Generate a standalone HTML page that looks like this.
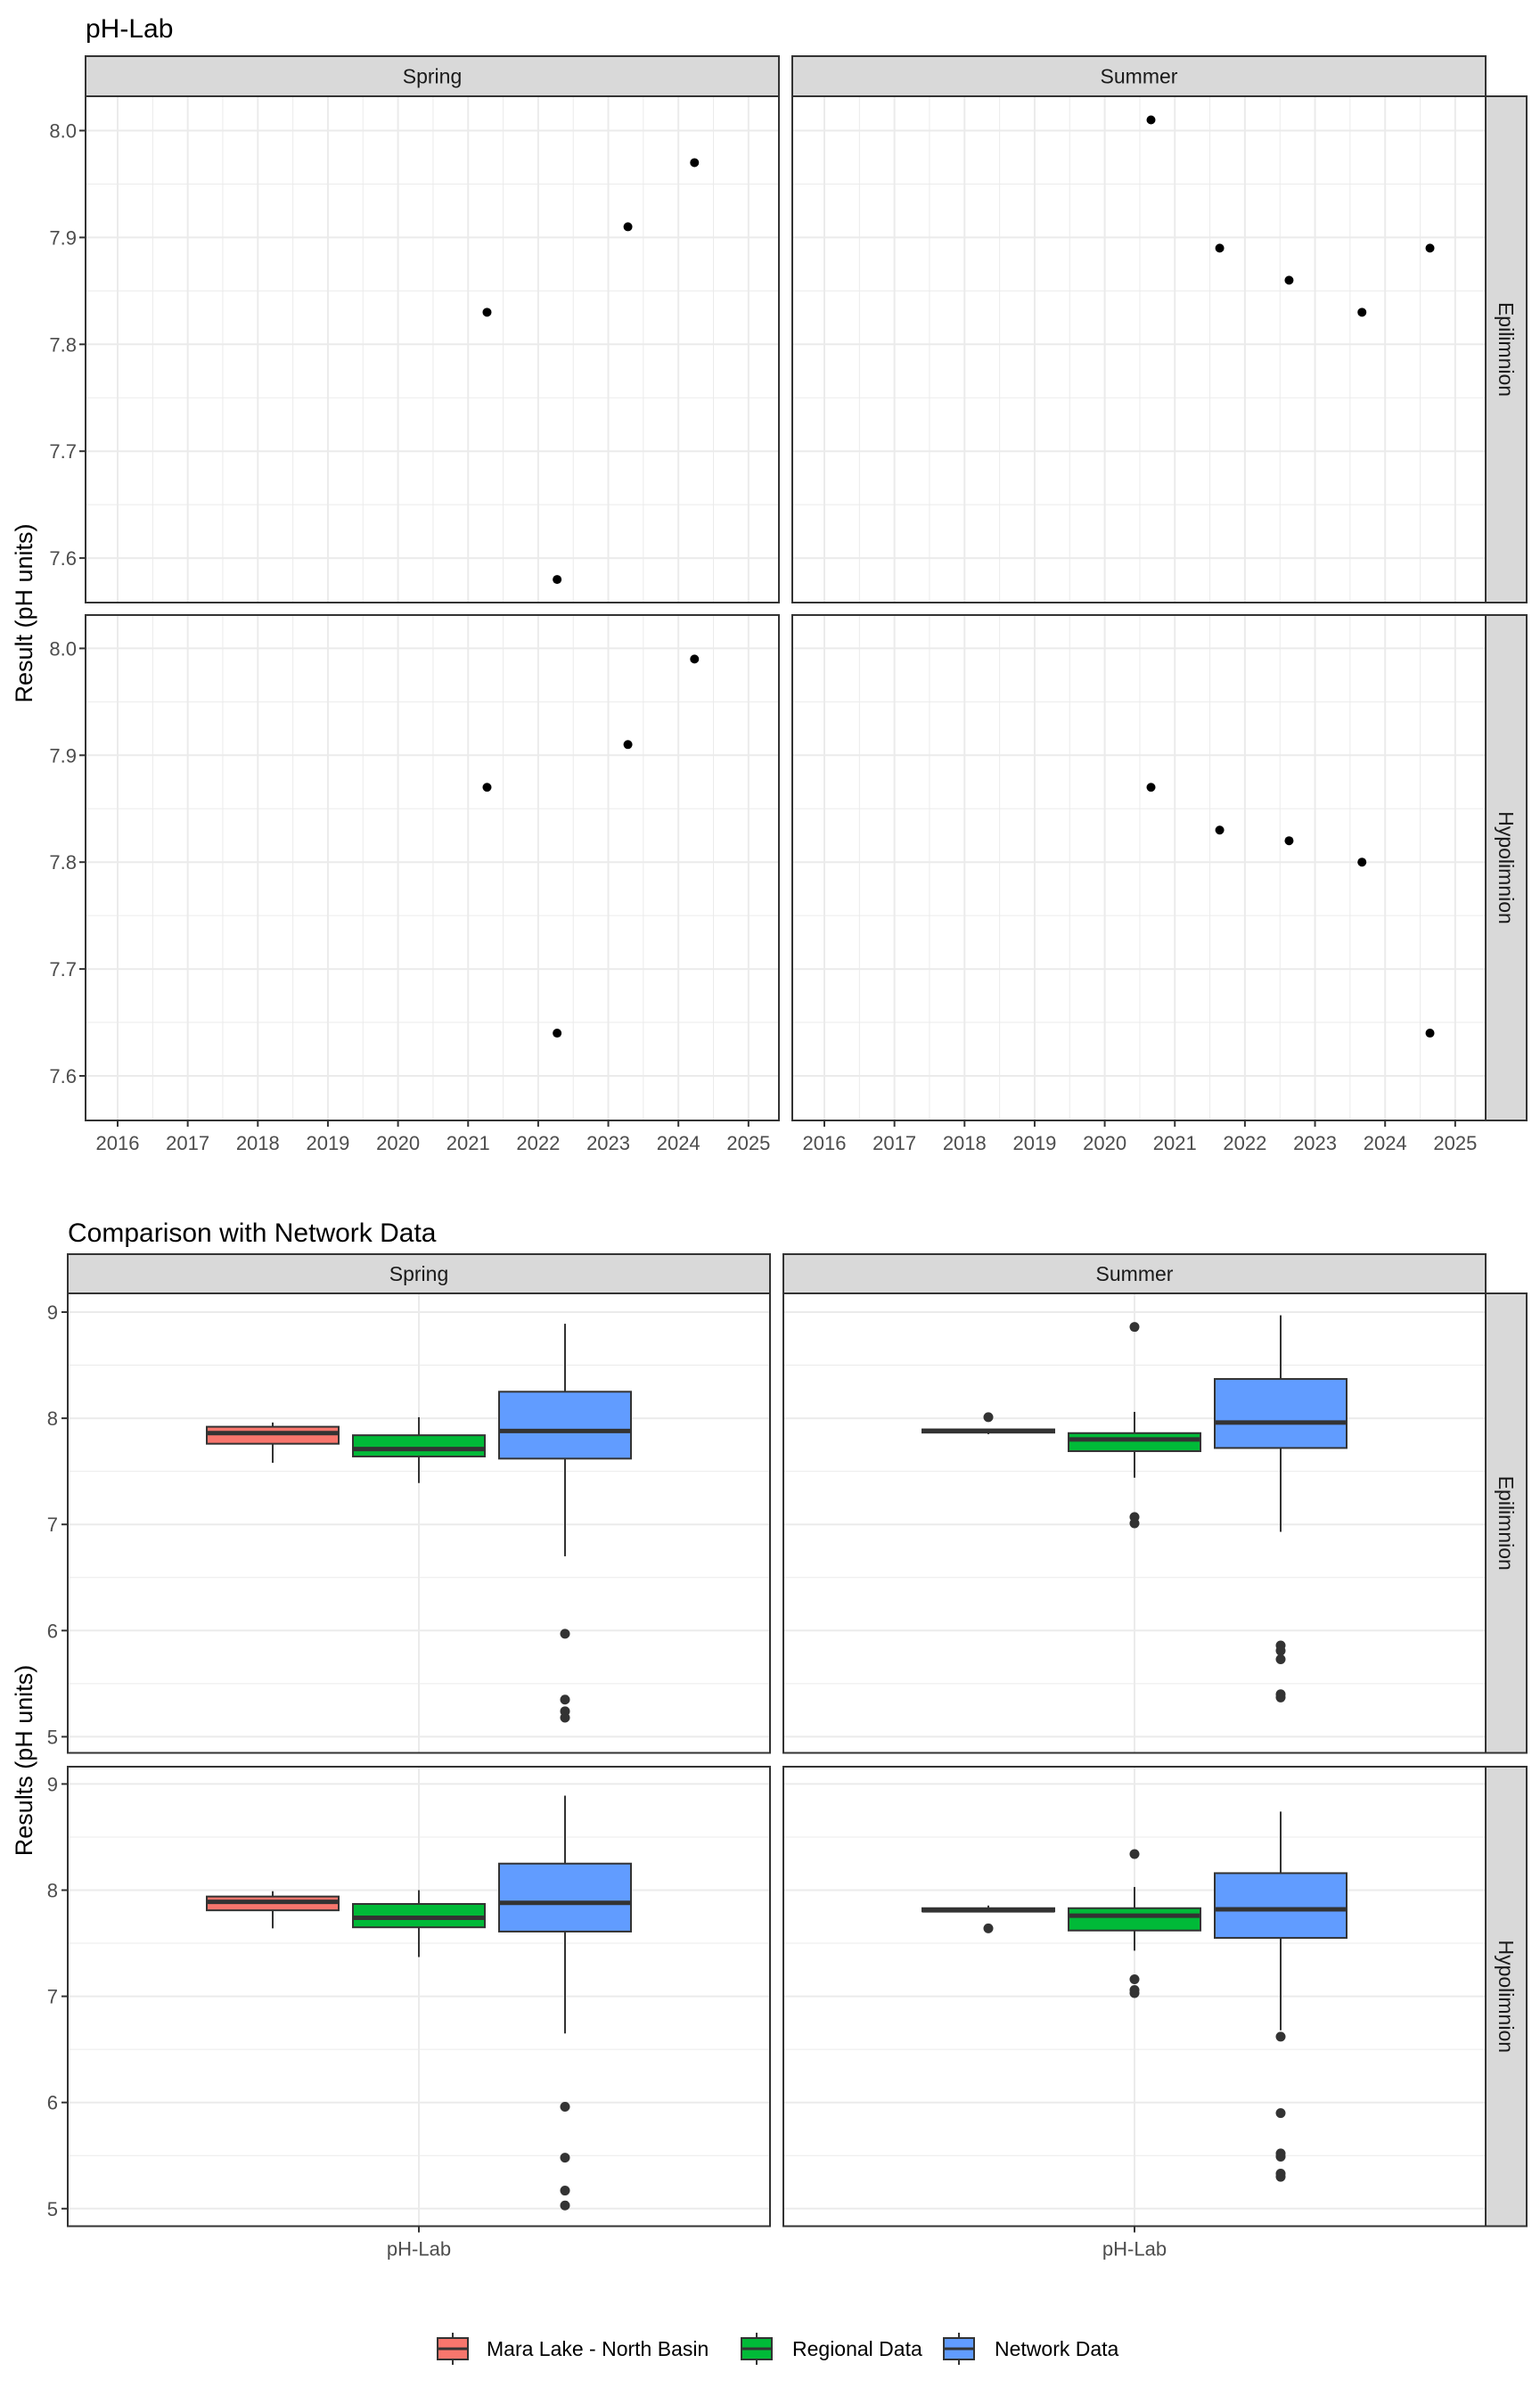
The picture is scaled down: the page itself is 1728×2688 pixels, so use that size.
<!DOCTYPE html>
<html><head><meta charset="utf-8"><style>
html,body{margin:0;padding:0;background:#fff;}
svg{display:block;font-family:"Liberation Sans",Arial,sans-serif;}
</style></head><body>
<svg id="c" width="1728" height="2688" viewBox="0 0 1728 2688" xmlns="http://www.w3.org/2000/svg">
<rect width="1728" height="2688" fill="#fff"/>
<text x="96" y="42" font-size="30" fill="#000">pH-Lab</text>
<text transform="translate(36,688) rotate(-90)" text-anchor="middle" font-size="27" fill="#000">Result (pH units)</text>
<text x="76" y="1393" font-size="30" fill="#000">Comparison with Network Data</text>
<text transform="translate(36,1975) rotate(-90)" text-anchor="middle" font-size="27" fill="#000">Results (pH units)</text>
<g id="g"></g>
</svg>
<script>
// ---- Top chart data (year, pH) ----
const yearTicks = [2016,2017,2018,2019,2020,2021,2022,2023,2024,2025];
const phTicks = [7.6,7.7,7.8,7.9,8.0];
const phTickLabels = ["7.6","7.7","7.8","7.9","8.0"];
const springEpiYears = [2021.27,2022.27,2023.28,2024.23];
const springEpiValues = [7.83,7.58,7.91,7.97];
const summerEpiYears = [2020.66,2021.64,2022.63,2023.67,2024.64];
const summerEpiValues = [8.01,7.89,7.86,7.83,7.89];
const springHypoYears = [2021.27,2022.27,2023.28,2024.23];
const springHypoValues = [7.87,7.64,7.91,7.99];
const summerHypoYears = [2020.66,2021.64,2022.63,2023.67,2024.64];
const summerHypoValues = [7.87,7.83,7.82,7.80,7.64];

// ---- Bottom chart data: [whiskerLow, q1, median, q3, whiskerHigh] ----
const groups = ["Mara Lake - North Basin","Regional Data","Network Data"];
const resultTicks = [5,6,7,8,9];
const springEpiBoxes = [[7.58,7.76,7.86,7.92,7.96],[7.39,7.64,7.71,7.84,8.01],[6.70,7.62,7.88,8.25,8.89]];
const springEpiOutliers = [[],[],[5.97,5.35,5.24,5.18]];
const summerEpiBoxes = [[7.85,7.865,7.88,7.895,7.90],[7.44,7.69,7.80,7.86,8.06],[6.93,7.72,7.96,8.37,8.97]];
const summerEpiOutliers = [[8.01],[8.86,7.07,7.01],[5.86,5.81,5.73,5.40,5.37]];
const springHypoBoxes = [[7.64,7.81,7.89,7.94,7.99],[7.37,7.65,7.74,7.87,8.00],[6.65,7.61,7.88,8.25,8.89]];
const springHypoOutliers = [[],[],[5.96,5.48,5.17,5.03]];
const summerHypoBoxes = [[7.79,7.80,7.81,7.83,7.855],[7.43,7.62,7.76,7.83,8.03],[6.68,7.55,7.82,8.16,8.74]];
const summerHypoOutliers = [[7.64],[8.34,7.16,7.06,7.03],[6.62,5.90,5.52,5.49,5.33,5.30]];

const fills = ["#F8766D","#00BA38","#619CFF"];
const NS="http://www.w3.org/2000/svg";
const G=document.getElementById('g');
function mk(tag,attrs,parent){const e=document.createElementNS(NS,tag);for(const k in attrs)e.setAttribute(k,attrs[k]);(parent||G).appendChild(e);return e;}

function strip(x,y,w,h,label,rot,name){
  const r=mk('rect',{x:x,y:y,width:w,height:h,fill:'#D9D9D9',stroke:'#333','stroke-width':2});
  
  
  let t;
  if(rot){t=mk('text',{transform:`translate(${x+w/2-8},${y+h/2}) rotate(90)`,'text-anchor':'middle','font-size':23,fill:'#1a1a1a'});}
  else{t=mk('text',{x:x+w/2,y:y+h/2+8,'text-anchor':'middle','font-size':23,fill:'#1a1a1a'});}
  t.textContent=label;
  
  
}

// ---------- Top chart ----------
function topPanel(px,py,pw,ph,y8,years,vals,showY,showX,name){
  const xs=v=>px+36+(v-2016)*78.65;
  const ys=v=>y8+(8.0-v)*1199;
  const bg=mk('rect',{x:px,y:py,width:pw,height:ph,fill:'#fff'});
  
  
  for(let yr=2015.5;yr<=2025.6;yr+=1){const x=xs(yr);if(x>px&&x<px+pw)mk('line',{x1:x,x2:x,y1:py,y2:py+ph,stroke:'#EBEBEB','stroke-width':1});}
  for(let v=7.55;v<=8.06;v+=0.1){const y=ys(v);if(y>py&&y<py+ph)mk('line',{x1:px,x2:px+pw,y1:y,y2:y,stroke:'#EBEBEB','stroke-width':1});}
  yearTicks.forEach(yr=>{mk('line',{x1:xs(yr),x2:xs(yr),y1:py,y2:py+ph,stroke:'#EBEBEB','stroke-width':2});});
  phTicks.forEach((v,i)=>{const y=ys(v);mk('line',{x1:px,x2:px+pw,y1:y,y2:y,stroke:'#EBEBEB','stroke-width':2});
    if(showY){mk('line',{x1:px-7,x2:px,y1:y,y2:y,stroke:'#333','stroke-width':2});
      const t=mk('text',{x:px-10,y:y+8,'text-anchor':'end','font-size':22,fill:'#4d4d4d'});t.textContent=phTickLabels[i];
      
      }});
  if(showX){yearTicks.forEach(yr=>{const x=xs(yr);mk('line',{x1:x,x2:x,y1:py+ph,y2:py+ph+7,stroke:'#333','stroke-width':2});
    const t=mk('text',{x:x,y:py+ph+33,'text-anchor':'middle','font-size':22,fill:'#4d4d4d'});t.textContent=yr;
    
    });}
  years.forEach((yr,i)=>{const c=mk('circle',{cx:xs(yr),cy:ys(vals[i]),r:5,fill:'#000'});
    
    });
  mk('rect',{x:px,y:py,width:pw,height:ph,fill:'none',stroke:'#333','stroke-width':2});
}
strip(96,63,778,45,'Spring',false,'top-spring');
strip(889,63,778,45,'Summer',false,'top-summer');
topPanel(96,108,778,568,146.5,springEpiYears,springEpiValues,true,false,'top-spring-epilimnion');
topPanel(889,108,778,568,146.5,summerEpiYears,summerEpiValues,false,false,'top-summer-epilimnion');
topPanel(96,690,778,567,727.4,springHypoYears,springHypoValues,true,true,'top-spring-hypolimnion');
topPanel(889,690,778,567,727.4,summerHypoYears,summerHypoValues,false,true,'top-summer-hypolimnion');
strip(1667,108,46,568,'Epilimnion',true,'top-epilimnion');
strip(1667,690,46,567,'Hypolimnion',true,'top-hypolimnion');

// ---------- Bottom chart ----------
function boxPanel(px,py,pw,ph,y9,boxes,outs,showY,showX,name){
  const unit=119.1;
  const ys=v=>y9+(9-v)*unit;
  const cx=px+pw/2;
  const bg=mk('rect',{x:px,y:py,width:pw,height:ph,fill:'#fff'});
  
  
  [5.5,6.5,7.5,8.5].forEach(v=>mk('line',{x1:px,x2:px+pw,y1:ys(v),y2:ys(v),stroke:'#EBEBEB','stroke-width':1}));
  resultTicks.forEach(v=>{const y=ys(v);mk('line',{x1:px,x2:px+pw,y1:y,y2:y,stroke:'#EBEBEB','stroke-width':2});
    if(showY){mk('line',{x1:px-7,x2:px,y1:y,y2:y,stroke:'#333','stroke-width':2});
      const t=mk('text',{x:px-11,y:y+8,'text-anchor':'end','font-size':22,fill:'#4d4d4d'});t.textContent=v;
      
      }});
  mk('line',{x1:cx,x2:cx,y1:py,y2:py+ph,stroke:'#EBEBEB','stroke-width':2});
  if(showX){mk('line',{x1:cx,x2:cx,y1:py+ph,y2:py+ph+7,stroke:'#333','stroke-width':2});
    const t=mk('text',{x:cx,y:py+ph+33,'text-anchor':'middle','font-size':22,fill:'#4d4d4d'});t.textContent='pH-Lab';
    
    }
  boxes.forEach((b,i)=>{
    const bx=cx+(i-1)*164, w=148;
    const g=mk('g',{});
    
    
    mk('line',{x1:bx,x2:bx,y1:ys(b[4]),y2:ys(b[3]),stroke:'#333','stroke-width':2},g);
    mk('line',{x1:bx,x2:bx,y1:ys(b[1]),y2:ys(b[0]),stroke:'#333','stroke-width':2},g);
    mk('rect',{x:bx-w/2,y:ys(b[3]),width:w,height:Math.max(0.5,ys(b[1])-ys(b[3])),fill:fills[i],stroke:'#333','stroke-width':2},g);
    mk('line',{x1:bx-w/2,x2:bx+w/2,y1:ys(b[2]),y2:ys(b[2]),stroke:'#333','stroke-width':5},g);
    outs[i].forEach(v=>{const c=mk('circle',{cx:bx,cy:ys(v),r:5.5,fill:'#333'},g);
      
      });
  });
  mk('rect',{x:px,y:py,width:pw,height:ph,fill:'none',stroke:'#333','stroke-width':2});
}
strip(76,1407,788,44,'Spring',false,'bottom-spring');
strip(879,1407,788,44,'Summer',false,'bottom-summer');
boxPanel(76,1451,788,515.5,1472,springEpiBoxes,springEpiOutliers,true,false,'bottom-spring-epilimnion');
boxPanel(879,1451,788,515.5,1472,summerEpiBoxes,summerEpiOutliers,false,false,'bottom-summer-epilimnion');
boxPanel(76,1982,788,515.5,2001.4,springHypoBoxes,springHypoOutliers,true,true,'bottom-spring-hypolimnion');
boxPanel(879,1982,788,515.5,2001.4,summerHypoBoxes,summerHypoOutliers,false,true,'bottom-summer-hypolimnion');
strip(1667,1451,46,515.5,'Epilimnion',true,'bottom-epilimnion');
strip(1667,1982,46,515.5,'Hypolimnion',true,'bottom-hypolimnion');

// ---------- Legend ----------
const legendX=[491,832,1059];
const textX=[546,889,1116];
groups.forEach((gname,i)=>{
  const g=mk('g',{});
  
  
  const kx=legendX[i];
  mk('line',{x1:kx+17,x2:kx+17,y1:2617,y2:2653,stroke:'#333','stroke-width':2},g);
  mk('rect',{x:kx,y:2623,width:34,height:24,fill:fills[i],stroke:'#333','stroke-width':2},g);
  mk('line',{x1:kx,x2:kx+34,y1:2635,y2:2635,stroke:'#333','stroke-width':3},g);
  const t=mk('text',{x:textX[i],y:2643,'font-size':23,fill:'#000'},g);t.textContent=gname;
});
</script>
</body></html>
